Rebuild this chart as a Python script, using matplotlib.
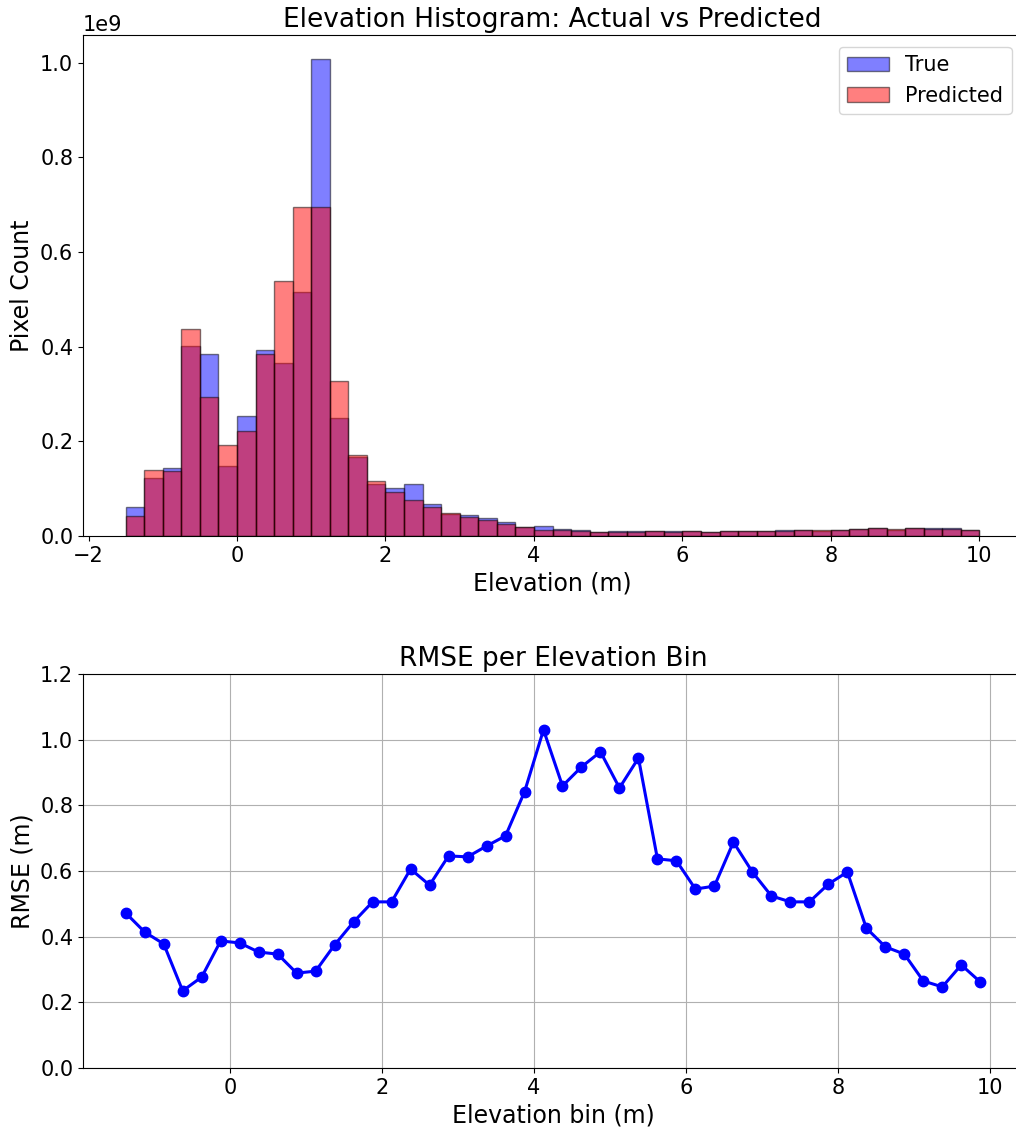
import numpy as np
import matplotlib
matplotlib.use("Agg")
import matplotlib.pyplot as plt

# ------ Histogram data (pixel counts per 0.25 m bin, in units of 1e9) ------
bin_edges = np.arange(-1.5, 10.0 + 0.001, 0.25)

true_counts = [0.062, 0.123, 0.144, 0.401, 0.384, 0.147, 0.253, 0.393, 0.365, 0.516,
               1.008, 0.249, 0.167, 0.109, 0.102, 0.110, 0.068, 0.046, 0.045, 0.038,
               0.029, 0.020, 0.021, 0.015, 0.012, 0.009, 0.010, 0.011, 0.011, 0.010,
               0.011, 0.009, 0.011, 0.010, 0.011, 0.012, 0.013, 0.010, 0.013, 0.015,
               0.017, 0.012, 0.017, 0.016, 0.016, 0.013]
pred_counts = [0.043, 0.140, 0.137, 0.437, 0.293, 0.193, 0.222, 0.384, 0.539, 0.696,
               0.694, 0.327, 0.171, 0.117, 0.094, 0.077, 0.062, 0.049, 0.040, 0.034,
               0.025, 0.019, 0.013, 0.012, 0.010, 0.009, 0.009, 0.009, 0.010, 0.009,
               0.010, 0.009, 0.010, 0.010, 0.010, 0.011, 0.012, 0.012, 0.013, 0.014,
               0.016, 0.015, 0.017, 0.015, 0.015, 0.013]

# ------ RMSE per elevation bin ------
rmse = [0.472, 0.414, 0.378, 0.235, 0.277, 0.387, 0.381, 0.353, 0.347, 0.289,
        0.295, 0.375, 0.445, 0.506, 0.506, 0.606, 0.557, 0.646, 0.643, 0.676,
        0.707, 0.841, 1.030, 0.859, 0.917, 0.963, 0.853, 0.944, 0.637, 0.631,
        0.545, 0.554, 0.688, 0.597, 0.524, 0.506, 0.506, 0.560, 0.597, 0.426,
        0.369, 0.347, 0.265, 0.247, 0.314, 0.262]

bin_centers = (bin_edges[:-1] + bin_edges[1:]) / 2

W, H = 1016, 1129
fig = plt.figure(figsize=(W / 100, H / 100), dpi=100)
# axes boxes in pixels (right spine falls just past the image edge)
ax1 = fig.add_axes([83 / W, 1 - 536 / H, (1022 - 83) / W, (536 - 35) / H])
ax2 = fig.add_axes([83 / W, 1 - 1068 / H, (1023 - 83) / W, (1068 - 674) / H])

ax1.hist(bin_centers, bins=bin_edges, weights=np.array(true_counts) * 1e9,
         alpha=0.5, color="blue", edgecolor="black", label="True")
ax1.hist(bin_centers, bins=bin_edges, weights=np.array(pred_counts) * 1e9,
         alpha=0.5, color="red", edgecolor="black", label="Predicted")
ax1.set_title("Elevation Histogram: Actual vs Predicted", fontsize=19)
ax1.set_xlabel("Elevation (m)", fontsize=17)
ax1.set_ylabel("Pixel Count", fontsize=17)
ax1.tick_params(labelsize=15)
ax1.yaxis.get_offset_text().set_fontsize(15)
ax1.legend(fontsize=15, loc="upper right", bbox_to_anchor=(1.0, 0.997))

ax2.plot(bin_centers, rmse, "-o", color="blue", linewidth=2.2, markersize=7.5)
ax2.set_title("RMSE per Elevation Bin", fontsize=19)
ax2.set_xlabel("Elevation bin (m)", fontsize=17)
ax2.set_ylabel("RMSE (m)", fontsize=17)
ax2.set_ylim(0, 1.2)
ax2.tick_params(labelsize=15)
ax2.grid(True)

plt.savefig("out.png")
